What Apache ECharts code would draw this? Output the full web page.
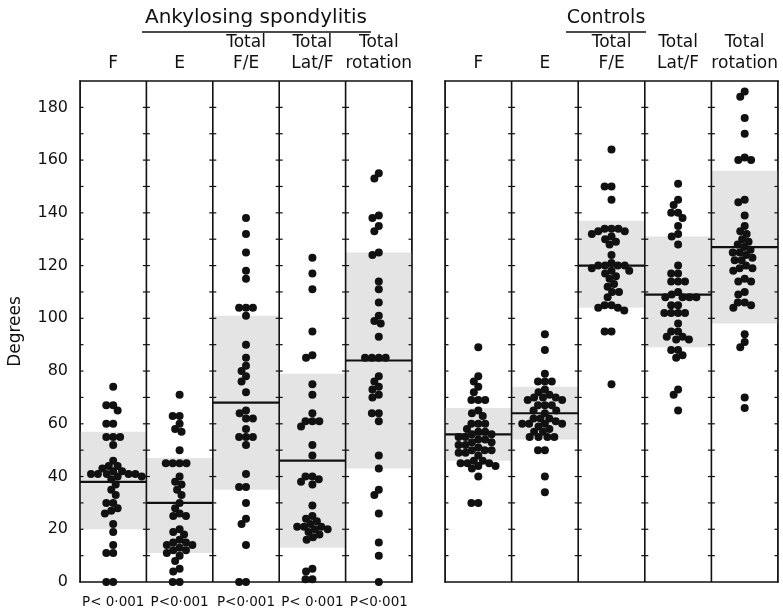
<!DOCTYPE html>
<html><head><meta charset="utf-8">
<script src="https://cdn.jsdelivr.net/npm/echarts@6/dist/echarts.min.js"></script>
<style>html,body{margin:0;padding:0;background:#fff}#c{width:783px;height:611px}</style>
</head><body><div id="c"></div>
<script>
// ---------- data ----------
const categories = ['F', 'E', 'Total\nF/E', 'Total\nLat/F', 'Total\nrotation'];
const groupTitles = ['Ankylosing spondylitis', 'Controls'];
const pLabels = ['P< 0·001', 'P<0·001', 'P<0·001', 'P< 0·001', 'P<0·001'];
const yLabelValues = [0, 20, 40, 60, 80, 100, 120, 140, 160, 180];
const tickValues = [10, 20, 30, 40, 50, 60, 70, 80, 90, 100, 110, 120, 130, 140, 150, 160, 170, 180];

// Ankylosing spondylitis
const asF = [74, 67, 67, 65, 60, 60, 55, 55, 55, 52, 46, 44, 44, 43, 42, 42, 41, 41, 41, 41, 41, 40, 40, 39, 37, 35, 33, 30, 30, 28, 27, 26, 22, 19, 14, 11, 11, 0, 0];
const asE = [71, 63, 63, 60, 58, 57, 50, 45, 45, 45, 45, 40, 38, 37, 35, 33, 30, 28, 26, 25, 25, 20, 19, 18, 16, 15, 15, 14, 14, 13, 12, 12, 11, 10, 8, 5, 4, 0, 0];
const asFE = [138, 132, 125, 118, 115, 104, 104, 104, 101, 90, 85, 82, 80, 78, 76, 72, 65, 64, 62, 62, 58, 55, 55, 55, 52, 41, 36, 36, 30, 24, 22, 14, 0, 0];
const asLatF = [123, 117, 111, 95, 86, 85, 75, 71, 64, 61, 61, 61, 59, 52, 48, 40, 40, 39, 38, 37, 29, 25, 24, 23, 22, 21, 21, 21, 20, 20, 19, 18, 17, 16, 5, 4, 1, 1];
const asRot = [155, 153, 139, 138, 135, 133, 125, 124, 114, 111, 106, 101, 99, 98, 93, 85, 85, 85, 85, 78, 76, 74, 73, 71, 70, 64, 64, 61, 48, 43, 35, 33, 26, 15, 10, 0];
const asMedian = [38, 30, 68, 46, 84];
const asShadeLow = [20, 11, 35, 13, 43];
const asShadeHigh = [57, 47, 101, 79, 125];

// Controls
const ctF = [89, 78, 76, 74, 72, 69, 69, 69, 65, 64, 63, 60, 60, 60, 58, 57, 57, 56, 56, 55, 55, 54, 54, 53, 53, 52, 52, 51, 50, 50, 50, 49, 49, 48, 46, 46, 45, 45, 45, 44, 44, 43, 40, 30, 30];
const ctE = [94, 88, 79, 76, 76, 76, 73, 72, 71, 70, 70, 70, 69, 69, 67, 67, 67, 65, 65, 64, 62, 62, 62, 61, 60, 60, 60, 60, 59, 58, 57, 57, 55, 55, 55, 55, 50, 50, 40, 34];
const ctFE = [164, 150, 150, 145, 134, 134, 134, 133, 133, 132, 131, 130, 129, 128, 124, 121, 120, 120, 120, 120, 119, 118, 118, 117, 116, 115, 113, 112, 110, 110, 108, 105, 105, 104, 104, 103, 95, 95, 75];
const ctLatF = [151, 145, 143, 140, 140, 138, 135, 132, 131, 128, 120, 117, 117, 114, 114, 114, 110, 109, 108, 108, 108, 108, 105, 105, 102, 102, 102, 102, 98, 95, 95, 93, 93, 92, 92, 88, 88, 86, 85, 73, 71, 65];
const ctRot = [186, 184, 176, 170, 161, 160, 160, 145, 144, 139, 135, 133, 132, 130, 129, 128, 127, 126, 125, 125, 124, 123, 122, 122, 120, 119, 119, 118, 115, 114, 114, 110, 109, 106, 106, 105, 104, 94, 91, 89, 70, 66];
const ctMedian = [56, 64, 120, 109, 127];
const ctShadeLow = [46, 54, 104, 89, 98];
const ctShadeHigh = [66, 74, 137, 131, 156];

// ---------- layout ----------
const Y_MAX = 190;
const GRID_TOP = 81, GRID_H = 501;
const grids = [
  { left: 80, top: GRID_TOP, width: 332, height: GRID_H },
  { left: 445, top: GRID_TOP, width: 333, height: GRID_H }
];
const DOT = 8;
const SPACING = 6.9;
const FONT = 'DejaVu Sans';

function swarm(values, pxX, pxY, d) {
  const order = values.map((v, i) => i).sort((a, b) => values[b] - values[a]);
  const placed = [];
  const offs = new Array(values.length);
  for (const i of order) {
    const y = values[i] * pxY;
    const forb = [];
    for (const p of placed) {
      const dy = Math.abs(p.y - y);
      if (dy < d) { const dx = Math.sqrt(d * d - dy * dy); forb.push([p.x - dx, p.x + dx]); }
    }
    const cands = [0];
    forb.forEach(f => cands.push(f[0], f[1]));
    cands.sort((a, b) => (Math.abs(a) - Math.abs(b)) || (a - b));
    let x = 0;
    for (const c of cands) {
      if (forb.every(f => c <= f[0] + 1e-6 || c >= f[1] - 1e-6)) { x = c; break; }
    }
    placed.push({ x, y });
    offs[i] = x / pxX;
  }
  return offs;
}

function dotData(cols, g) {
  const pxX = grids[g].width / 5, pxY = GRID_H / Y_MAX;
  const out = [];
  cols.forEach((vals, c) => {
    const o = swarm(vals, pxX, pxY, SPACING);
    vals.forEach((v, i) => out.push([c + 0.5 + o[i], v]));
  });
  return out;
}

const asCols = [asF, asE, asFE, asLatF, asRot];
const ctCols = [ctF, ctE, ctFE, ctLatF, ctRot];

function bandData(low, high, med) {
  return med.map((m, i) => [i, low[i], high[i], m]);
}

const series = [];
[0, 1].forEach(g => {
  const low = g ? ctShadeLow : asShadeLow, high = g ? ctShadeHigh : asShadeHigh, med = g ? ctMedian : asMedian;
  series.push({
    type: 'custom', xAxisIndex: g * 2, yAxisIndex: g, z: 1, clip: true, silent: true,
    data: bandData(low, high, med),
    renderItem: (params, api) => {
      const i = api.value(0);
      const p1 = api.coord([i, api.value(2)]);
      const p0 = api.coord([i + 1, api.value(1)]);
      const pm0 = api.coord([i, api.value(3)]);
      const pm1 = api.coord([i + 1, api.value(3)]);
      return { type: 'group', children: [
        { type: 'rect', shape: { x: p1[0], y: p1[1], width: p0[0] - p1[0], height: p0[1] - p1[1] }, style: { fill: '#e4e4e4' } },
        { type: 'line', shape: { x1: pm0[0], y1: pm0[1], x2: pm1[0], y2: pm1[1] }, style: { stroke: '#111', lineWidth: 2.2 } }
      ]};
    }
  });
  // dividers + ticks
  series.push({
    type: 'custom', xAxisIndex: g * 2, yAxisIndex: g, z: 2, clip: true, silent: true,
    data: [0, 1, 2, 3, 4, 5].map(d => [d]),
    renderItem: (params, api) => {
      const d = api.value(0);
      const top = api.coord([d, Y_MAX]), bot = api.coord([d, 0]);
      const ch = [{ type: 'line', shape: { x1: top[0], y1: top[1], x2: bot[0], y2: bot[1] }, style: { stroke: '#111', lineWidth: 1.6 } }];
      tickValues.forEach(t => {
        const p = api.coord([d, t]);
        ch.push({ type: 'line', shape: { x1: p[0] - 3.5, y1: p[1], x2: p[0] + 3.5, y2: p[1] }, style: { stroke: '#111', lineWidth: 1.2 } });
      });
      return { type: 'group', children: ch };
    }
  });
  series.push({
    type: 'scatter', xAxisIndex: g * 2, yAxisIndex: g, z: 3, silent: true,
    symbolSize: DOT, itemStyle: { color: '#111', opacity: 1 },
    data: dotData(g ? ctCols : asCols, g)
  });
});

const xAxes = [];
[0, 1].forEach(g => {
  xAxes.push({ gridIndex: g, type: 'value', min: 0, max: 5, interval: 1, show: true,
    axisLine: { show: true, lineStyle: { color: '#111', width: 1.6 } },
    axisTick: { show: false }, axisLabel: { show: false }, splitLine: { show: false } });
  xAxes.push({ gridIndex: g, type: 'category', position: 'top', data: categories,
    axisLine: { show: true, onZero: false, lineStyle: { color: '#111', width: 1.6 } }, axisTick: { show: false },
    axisLabel: { interval: 0, color: '#111', fontFamily: FONT, fontSize: 17, lineHeight: 21, margin: 7 } });
});
xAxes.push({ gridIndex: 0, type: 'category', position: 'bottom', data: pLabels,
  axisLine: { show: false }, axisTick: { show: false },
  axisLabel: { interval: 0, hideOverlap: false, color: '#111', fontFamily: FONT, fontSize: 13.5, margin: 13 } });

const yAxes = [0, 1].map(g => ({
  gridIndex: g, type: 'value', min: 0, max: Y_MAX, interval: 10,
  name: g ? '' : 'Degrees', nameLocation: 'middle', nameGap: 56, nameRotate: 90,
  nameTextStyle: { color: '#111', fontFamily: FONT, fontSize: 17 },
  axisLine: { show: true, lineStyle: { color: '#111', width: 1.6 } },
  axisTick: { show: false }, splitLine: { show: false },
  axisLabel: { show: g === 0, color: '#111', fontFamily: FONT, fontSize: 16, margin: 12,
    formatter: v => (yLabelValues.indexOf(v) >= 0 ? String(v) : '') }
}));
// right border axes
[0, 1].forEach(g => yAxes.push({ gridIndex: g, type: 'value', position: 'right', min: 0, max: Y_MAX,
  axisLine: { show: true, lineStyle: { color: '#111', width: 1.6 } }, axisTick: { show: false },
  axisLabel: { show: false }, splitLine: { show: false } }));

const chart = echarts.init(document.getElementById('c'), null, { renderer: 'canvas' });
chart.setOption({
  backgroundColor: '#fff',
  animation: false,
  grid: grids.map(g => Object.assign({ containLabel: false }, g)),
  xAxis: xAxes,
  yAxis: yAxes,
  series: series,
  graphic: [
    { type: 'text', x: 256, y: 18, style: { text: groupTitles[0], fontFamily: FONT, fontSize: 20, fill: '#111', align: 'center', verticalAlign: 'middle' } },
    { type: 'line', shape: { x1: 142, y1: 32, x2: 371, y2: 32 }, style: { stroke: '#111', lineWidth: 1.5 } },
    { type: 'text', x: 606, y: 18, style: { text: groupTitles[1], fontFamily: FONT, fontSize: 19, fill: '#111', align: 'center', verticalAlign: 'middle' } },
    { type: 'line', shape: { x1: 566, y1: 32, x2: 646, y2: 32 }, style: { stroke: '#111', lineWidth: 1.5 } }
  ]
});
</script></body></html>
